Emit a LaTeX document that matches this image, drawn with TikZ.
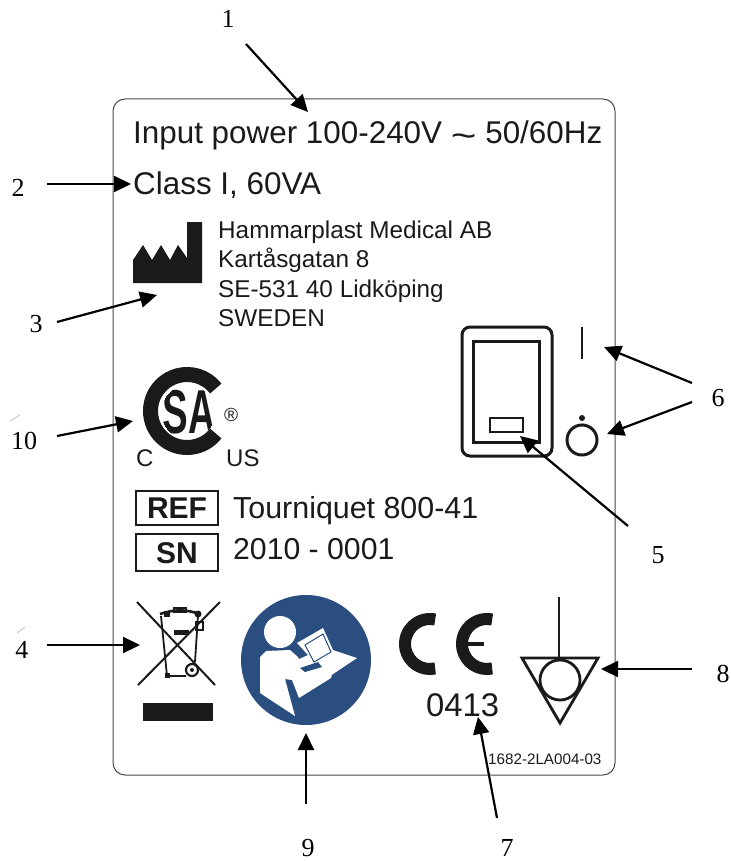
\documentclass[tikz,border=0pt]{standalone}
\usepackage{fontspec}
\setmainfont{Liberation Sans}
\newfontfamily\labfont{Liberation Serif}
\usetikzlibrary{arrows.meta}
\definecolor{ink}{HTML}{1C1A18}
\definecolor{mandatory}{HTML}{2B4E80}
\newcommand{\fs}[1]{\fontsize{#1}{#1}\selectfont}
\tikzset{
  callout/.style={draw=black,line width=2.2pt,-{Triangle[length=17pt,width=16pt]}},
  numlabel/.style={font=\labfont\fs{26},text=black,inner sep=0pt,anchor=center},
  labeltext/.style={text=ink,inner sep=0pt,anchor=base west},
  symline/.style={draw=ink,line width=3pt}
}
\begin{document}
\begin{tikzpicture}[x=1pt,y=-1pt]
\useasboundingbox (0,0) rectangle (730,861);
% plate
\draw[draw=ink!80,line width=1pt,rounded corners=12pt] (113,99) rectangle (615,775);
% texts
\node[labeltext,font=\fs{31.4}] (power) at (133,144) {Input power 100-240V \raisebox{-0.1em}{\scalebox{1.4}[1.1]{\symbol{126}}} 50/60Hz};
\node[labeltext,font=\fs{31.4}] (class) at (133,194) {Class I, 60VA};
\node[labeltext,font=\fs{24.3}] (addr1) at (218,238) {Hammarplast Medical AB};
\node[labeltext,font=\fs{24.3}] (addr2) at (218,267) {Kartåsgatan 8};
\node[labeltext,font=\fs{24.3}] (addr3) at (218,297) {SE-531 40 Lidköping};
\node[labeltext,font=\fs{24.3}] (addr4) at (218,326) {SWEDEN};
% factory
\fill[ink] (133,283) -- (133,260) -- (143,245) -- (152,260) -- (161,245) -- (170,260) -- (178,245) -- (187,258) -- (187,222) -- (202,222) -- (202,283) -- cycle;
% switch
\draw[symline,rounded corners=8pt] (462,327) rectangle (552,456);
\draw[symline] (473,341) rectangle (539,442);
\draw[draw=ink,line width=2.5pt] (490,418) rectangle (523,432);
\draw[draw=ink,line width=2.5pt] (582,327) -- (582,359);
\draw[symline] (582,440) circle (15);
\fill[ink] (582,418) circle (3);
% CSA
\draw[draw=ink,line width=15pt] (187,411) ++(38:36.5) arc[start angle=38,end angle=322,radius=36.5];
\begin{scope}
\clip (188,412) circle (27);
\node[inner sep=0pt,font=\bfseries\fs{62},text=ink] (csaS) at (175,412) {\scalebox{0.62}[1]{S}};
\node[inner sep=0pt,font=\bfseries\fs{62},text=ink] (csaA) at (202,412) {\scalebox{0.6}[1]{A}};
\end{scope}
\node[labeltext,font=\fs{19}] (reg) at (224,421) {\textregistered};
\node[labeltext,font=\fs{24}] (csaC) at (136,466) {C};
\node[labeltext,font=\fs{24}] (csaUS) at (226,466) {US};
% REF / SN
\draw[draw=ink,line width=1.2pt] (136,491) rectangle (218,525);
\draw[draw=ink,line width=1.2pt] (136,534) rectangle (218,571);
\node[inner sep=0pt,font=\bfseries\fs{30},text=ink] (ref) at (177,508) {REF};
\node[inner sep=0pt,font=\bfseries\fs{30},text=ink] (sn) at (177,553) {SN};
\node[labeltext,font=\fs{30.4}] (tq) at (233,518) {Tourniquet 800-41};
\node[labeltext,font=\fs{30.2}] (serial) at (233,559) {2010 - 0001};
% WEEE
\draw[draw=ink,line width=2pt] (137,602) -- (215,685);
\draw[draw=ink,line width=2pt] (220,602) -- (138,685);
\draw[draw=ink,line width=1.8pt] (161,616) -- (167,676) -- (186,676);
\draw[draw=ink,line width=1.8pt] (198,616) -- (195,662);
\draw[draw=ink,line width=2.6pt] (160,614) to[bend left=18] (200,614);
\draw[draw=ink,line width=1.2pt] (174,608) rectangle (186,612);
\fill[ink] (164,611) rectangle (170,617);
\fill[ink] (198,614) circle (3.5);
\fill[ink] (174,630) rectangle (189,635);
\draw[draw=ink,line width=1.2pt] (196,622) rectangle (203,630);
\fill[ink] (165,673) rectangle (170,678);
\draw[draw=ink,line width=2.2pt] (192,670) circle (6);
\fill[ink] (192,670) circle (2);
\fill[ink] (143,703) rectangle (213,721);
% mandatory sign
\fill[mandatory] (306,660) circle (65);
\fill[white] (280,632) circle (16);
\fill[white] (260,657) -- (266,651) -- (290,650) -- (298,657) -- (305,672) -- (322,667) -- (333,670) -- (331,678) -- (299,698) -- (292,680) -- (285,679) -- (295,716) -- (260,693) -- cycle;
\fill[white] (297,643) -- (323,628) -- (333,650) -- (357,658) -- (327,678) -- (318,669) -- (300,675) -- (297,660) -- (308,655) -- cycle;
\draw[draw=mandatory,line width=1pt] (305,645) -- (323,634) -- (331,652) -- (314,662) -- cycle;
\fill[mandatory] (300,668) -- (318,662) -- (322,667) -- (305,672) -- cycle;
% CE
\draw[draw=ink,line width=12pt] (430,644) ++(78:25) arc[start angle=78,end angle=282,radius=25];
\draw[draw=ink,line width=12pt] (487,644) ++(78:25) arc[start angle=78,end angle=282,radius=25];
\draw[draw=ink,line width=4.5pt] (462,644) -- (484,644);
\node[labeltext,font=\fs{32.8}] (nb) at (426,716) {0413};
\node[labeltext,font=\fs{15.2}] (code) at (488,764) {1682-2LA004-03};
% equipotential
\draw[draw=ink,line width=2.8pt] (559,597) -- (559,658);
\draw[draw=ink,line width=2.8pt,line join=miter] (522,658) -- (598,658) -- (560,723) -- cycle;
\draw[draw=ink,line width=2.8pt] (560,680) circle (20);
% scan specks
\draw[draw=black!25,line width=0.8pt] (10,421) -- (20,415);
\draw[draw=black!25,line width=0.8pt] (17,633) -- (25,627);
% callouts
\coordinate (a1s) at (246,44);  \coordinate (a1e) at (308,112);
\coordinate (a2s) at (47,184);  \coordinate (a2e) at (131,184);
\coordinate (a3s) at (57,322);  \coordinate (a3e) at (157,295);
\coordinate (a10s) at (57,436); \coordinate (a10e) at (133,421);
\coordinate (a6s) at (692,383); \coordinate (a6e) at (604,347);
\coordinate (a6t) at (692,402); \coordinate (a6f) at (607,434);
\coordinate (a5s) at (628,526); \coordinate (a5e) at (520,436);
\coordinate (a4s) at (47,645);  \coordinate (a4e) at (140,645);
\coordinate (a9s) at (306,804); \coordinate (a9e) at (306,733);
\coordinate (a7s) at (497,818); \coordinate (a7e) at (478,717);
\coordinate (a8s) at (692,669); \coordinate (a8e) at (601,669);
\draw[callout] (a1s) -- (a1e);
\draw[callout] (a2s) -- (a2e);
\draw[callout] (a3s) -- (a3e);
\draw[callout] (a10s) -- (a10e);
\draw[callout] (a6s) -- (a6e);
\draw[callout] (a6t) -- (a6f);
\draw[callout] (a5s) -- (a5e);
\draw[callout] (a4s) -- (a4e);
\draw[callout] (a9s) -- (a9e);
\draw[callout] (a7s) -- (a7e);
\draw[callout] (a8s) -- (a8e);
% number labels
\node[numlabel] (n1) at (228,19) {1};
\node[numlabel] (n2) at (18,188) {2};
\node[numlabel] (n3) at (36,324) {3};
\node[numlabel] (n10) at (24,441) {10};
\node[numlabel] (n6) at (718,398) {6};
\node[numlabel] (n5) at (658,555) {5};
\node[numlabel] (n4) at (22,650) {4};
\node[numlabel] (n9) at (308,848) {9};
\node[numlabel] (n7) at (507,848) {7};
\node[numlabel] (n8) at (723,674) {8};
\end{tikzpicture}
\end{document}
